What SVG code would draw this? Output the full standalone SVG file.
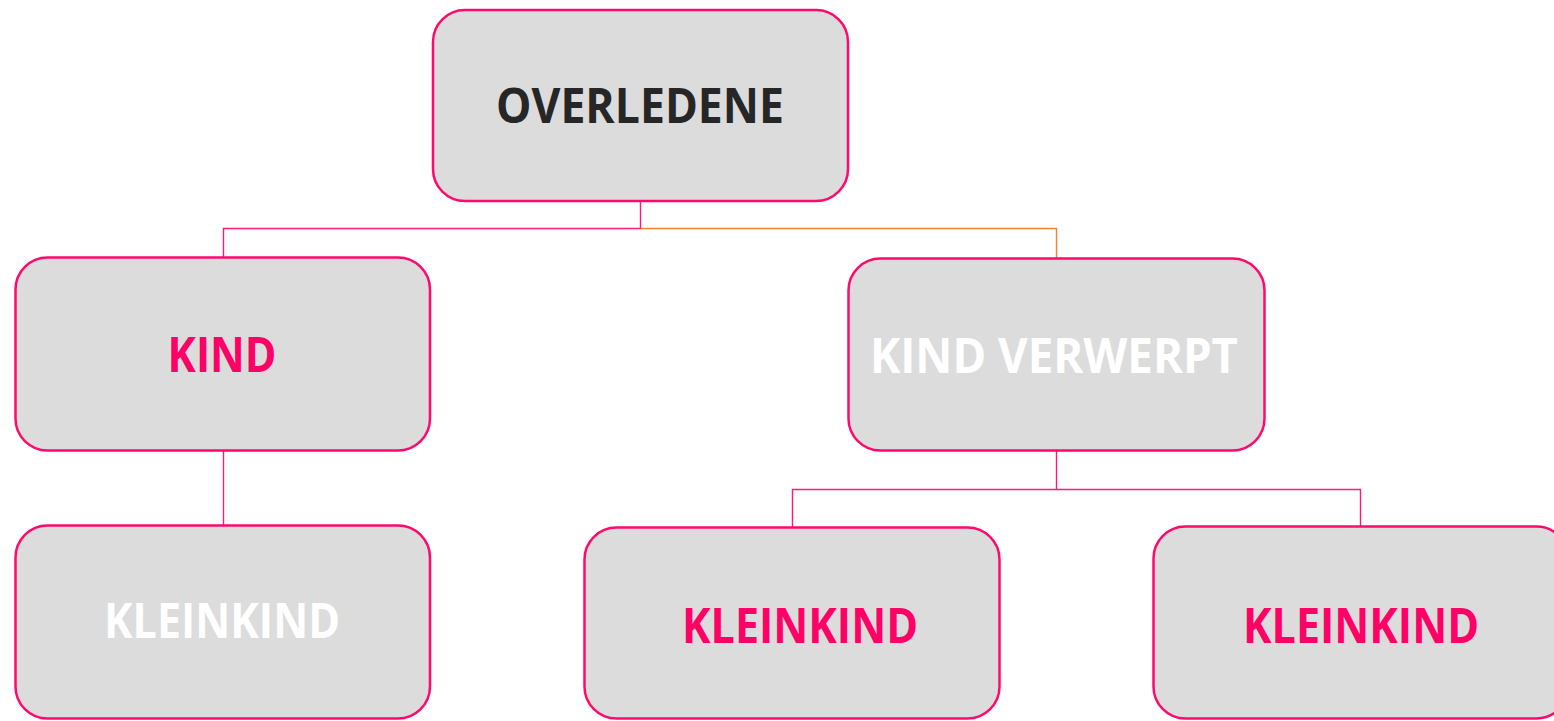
<svg xmlns="http://www.w3.org/2000/svg" width="1554" height="721" viewBox="0 0 1554 721">
<style>
.box{fill:#dcdcdc;stroke:#ff0a6c;stroke-width:2.5}
.t{font-family:"Open Sans","Noto Sans","Liberation Sans",sans-serif;font-weight:bold;font-size:48px;text-anchor:middle}
.dark{fill:#262626}
.pink{fill:#ff0066}
.white{fill:#ffffff}
.c{fill:none;stroke:#ff1a7a;stroke-width:1.4}
.o{fill:none;stroke:#f5802e;stroke-width:1.4}
</style>
<rect width="1554" height="721" fill="#ffffff"/>
<g id="connectors">
<path class="c" d="M640.5 201 V228.5 H223.5 V257"/>
<path class="o" d="M640.5 228.5 H1056.5 V258"/>
<path class="c" d="M223.5 451 V525"/>
<path class="c" d="M1056.5 451 V489.5 H792.5 V527"/>
<path class="c" d="M1056.5 489.5 H1360.5 V526"/>
</g>
<g id="overledene">
<rect class="box" x="433" y="10" width="415" height="191" rx="32"/>
<text class="t dark" x="640" y="123" textLength="288" lengthAdjust="spacingAndGlyphs">OVERLEDENE</text>
</g>
<g id="kind">
<rect class="box" x="15.5" y="257.5" width="414.5" height="193" rx="32"/>
<text class="t pink" x="222" y="372" textLength="109" lengthAdjust="spacingAndGlyphs">KIND</text>
</g>
<g id="kind-verwerpt">
<rect class="box" x="848.5" y="258.5" width="416" height="192" rx="32"/>
<text class="t white" x="1054" y="373" textLength="368" lengthAdjust="spacingAndGlyphs">KIND VERWERPT</text>
</g>
<g id="kleinkind-1">
<rect class="box" x="15.5" y="525.5" width="414.5" height="193" rx="32"/>
<text class="t white" x="222" y="638" textLength="236" lengthAdjust="spacingAndGlyphs">KLEINKIND</text>
</g>
<g id="kleinkind-2">
<rect class="box" x="584.5" y="527.5" width="415" height="191" rx="32"/>
<text class="t pink" x="800" y="643" textLength="236" lengthAdjust="spacingAndGlyphs">KLEINKIND</text>
</g>
<g id="kleinkind-3">
<rect class="box" x="1153.5" y="526.5" width="415" height="192" rx="32"/>
<text class="t pink" x="1361" y="643" textLength="236" lengthAdjust="spacingAndGlyphs">KLEINKIND</text>
</g>
</svg>
